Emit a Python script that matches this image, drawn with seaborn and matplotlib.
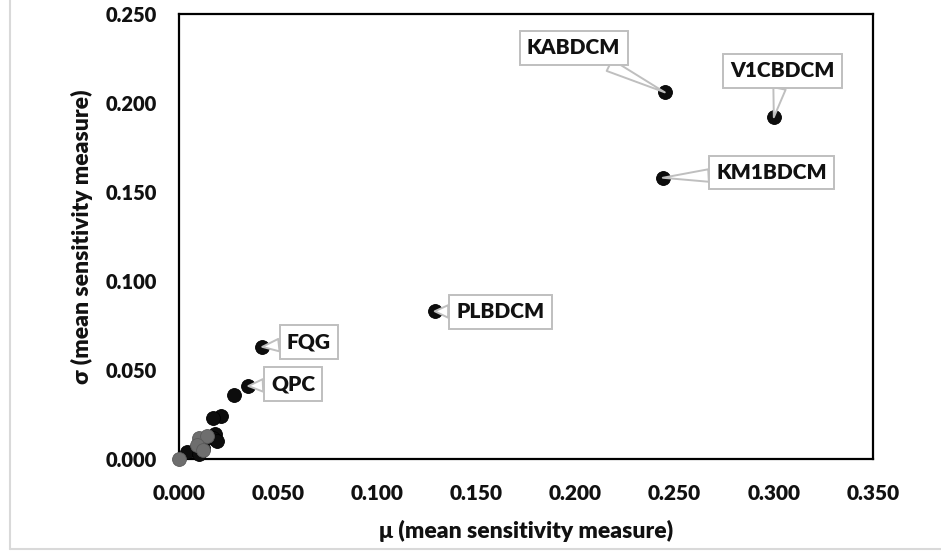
import seaborn as sns
import matplotlib.pyplot as plt
import pandas as pd
from matplotlib.lines import Line2D

# black series (labelled + cluster near origin)
mu_main = [0.245, 0.300, 0.244, 0.129, 0.042, 0.035, 0.028, 0.021, 0.017,
           0.018, 0.017, 0.019, 0.012, 0.008, 0.004, 0.010]
sigma_main = [0.206, 0.192, 0.158, 0.083, 0.063, 0.041, 0.036, 0.024, 0.023,
              0.014, 0.012, 0.010, 0.006, 0.005, 0.004, 0.003]

# grey series
mu_grey = [0.000, 0.010, 0.014, 0.009, 0.012]
sigma_grey = [0.000, 0.012, 0.013, 0.008, 0.005]

# callout labels: name, point (mu, sigma), box centre (mu, sigma)
names = ["KABDCM", "V1CBDCM", "KM1BDCM", "PLBDCM", "FQG", "QPC"]
name_mu = [0.245, 0.300, 0.244, 0.129, 0.042, 0.035]
name_sigma = [0.206, 0.192, 0.158, 0.083, 0.063, 0.041]
box_mu = [0.199, 0.3046, 0.299, 0.162, 0.0655, 0.0575]
box_sigma = [0.231, 0.218, 0.161, 0.0826, 0.0657, 0.042]

x_ticks = [0.0, 0.05, 0.10, 0.15, 0.20, 0.25, 0.30, 0.35]
y_ticks = [0.0, 0.05, 0.10, 0.15, 0.20, 0.25]

sns.set_style("white")
plt.rcParams['font.family'] = ['Lato', 'DejaVu Sans']
W = "heavy"

df_main = pd.DataFrame({"mu": mu_main, "sigma": sigma_main})
df_grey = pd.DataFrame({"mu": mu_grey, "sigma": sigma_grey})

fig = plt.figure(figsize=(9.41, 5.52), dpi=100)
ax = fig.add_axes([0.1902, 0.1685, 0.7375, 0.8061])

sns.scatterplot(data=df_main, x="mu", y="sigma", ax=ax, s=100, color="#0d0d0d",
                edgecolor="#000000", linewidth=0.6, zorder=3, clip_on=False)
sns.scatterplot(data=df_grey, x="mu", y="sigma", ax=ax, s=100, color="#6e6e6e",
                edgecolor="#5a5a5a", linewidth=0.6, zorder=4, clip_on=False)

for name, px, py, bx, by in zip(names, name_mu, name_sigma, box_mu, box_sigma):
    ax.annotate(name, xy=(px, py), xytext=(bx, by), ha="center", va="center",
                fontsize=15, fontweight=W, color="#111111", zorder=5,
                bbox=dict(boxstyle="square,pad=0.35", fc="white", ec="#bfbfbf", lw=1.4),
                arrowprops=dict(arrowstyle="wedge,tail_width=0.6,shrink_factor=0.5",
                                fc="white", ec="#bfbfbf", lw=1.4, shrinkA=0, shrinkB=0))

ax.set_xlim(0, 0.35)
ax.set_ylim(0, 0.25)
ax.set_xticks(x_ticks)
ax.set_yticks(y_ticks)
ax.set_xticklabels([f"{v:.3f}" for v in x_ticks])
ax.set_yticklabels([f"{v:.3f}" for v in y_ticks])
ax.tick_params(axis="x", length=0, labelsize=15, colors="#111111", pad=18)
ax.tick_params(axis="y", length=0, labelsize=14.5, colors="#111111", pad=16)
for lab in ax.get_xticklabels() + ax.get_yticklabels():
    lab.set_fontweight(W)
for sp in ax.spines.values():
    sp.set_visible(True)
    sp.set_color("black")
    sp.set_linewidth(1.6)

ax.set_xlabel("μ (mean sensitivity measure)", fontsize=16.5, fontweight=W,
              color="#111111", labelpad=12)
ax.set_ylabel("σ (mean sensitivity measure)", fontsize=16.5, fontweight=W,
              color="#111111")
ax.yaxis.set_label_coords(-0.124, 0.5)

# outer chart-area border (left and bottom edges visible)
fig.add_artist(Line2D([10 / 941, 10 / 941], [3 / 552, 1.0], transform=fig.transFigure,
                      color="#d9d9d9", lw=1.5))
fig.add_artist(Line2D([10 / 941, 1.0], [3 / 552, 3 / 552], transform=fig.transFigure,
                      color="#d9d9d9", lw=1.5))

fig.savefig("out.png", dpi=100)
